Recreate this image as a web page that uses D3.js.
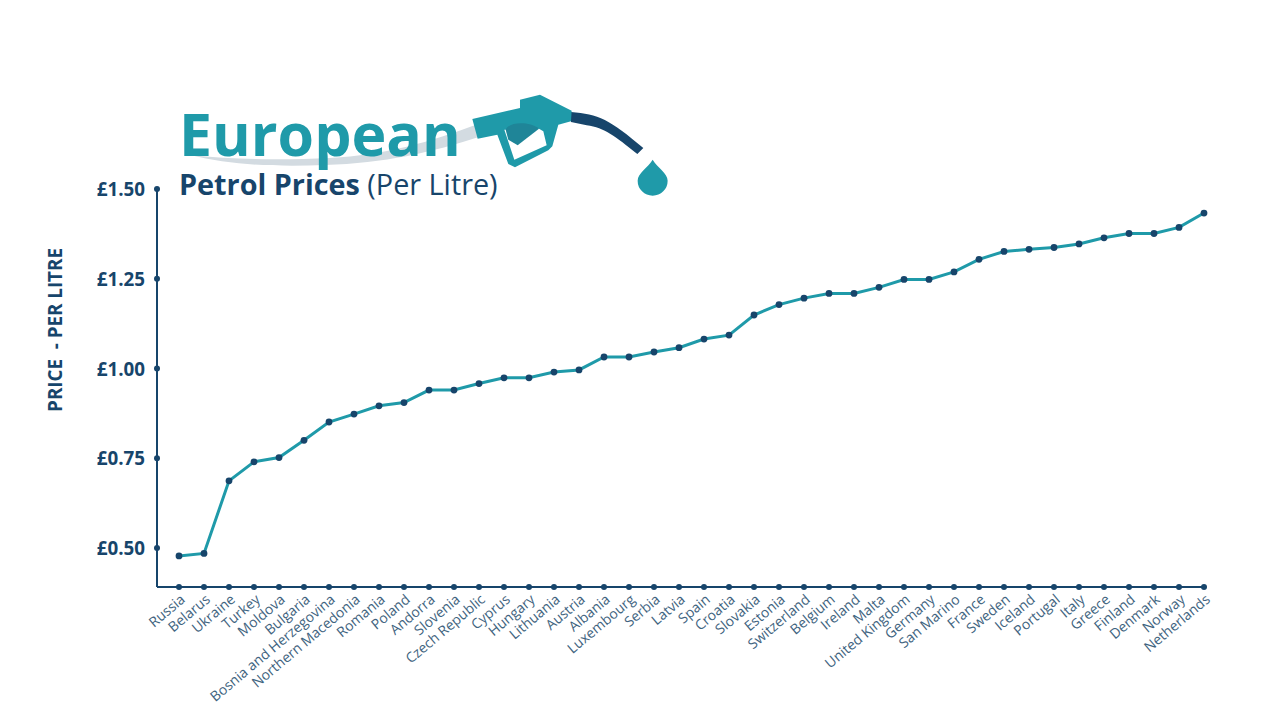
<!DOCTYPE html>
<html><head><meta charset="utf-8">
<script src="https://cdnjs.cloudflare.com/ajax/libs/d3/7.8.5/d3.min.js"></script>
<style>html,body{margin:0;padding:0;background:#fff}svg{display:block}text{font-family:"Open Sans",sans-serif}</style>
</head><body><svg id="c" width="1280" height="720"></svg>
<script>
const countries=["Russia","Belarus","Ukraine","Turkey","Moldova","Bulgaria","Bosnia and Herzegovina","Northern Macedonia","Romania","Poland","Andorra","Slovenia","Czech Republic","Cyprus","Hungary","Lithuania","Austria","Albania","Luxembourg","Serbia","Latvia","Spain","Croatia","Slovakia","Estonia","Switzerland","Belgium","Ireland","Malta","United Kingdom","Germany","San Marino","France","Sweden","Iceland","Portugal","Italy","Greece","Finland","Denmark","Norway","Netherlands"];
const prices=[0.478,0.485,0.687,0.74,0.752,0.80,0.851,0.873,0.896,0.905,0.94,0.94,0.958,0.974,0.974,0.99,0.996,1.032,1.032,1.046,1.058,1.082,1.093,1.149,1.178,1.196,1.209,1.209,1.226,1.248,1.248,1.269,1.304,1.326,1.332,1.337,1.347,1.364,1.376,1.376,1.393,1.433];
const yTicks=[0.5,0.75,1,1.25,1.5];
const navy="#17456b",teal="#1f9aa9";
const svg=d3.select("#c");
const x=d3.scalePoint().domain(countries).range([179,1204]);
const y=d3.scaleLinear().domain([0.5,1.5]).range([548,189]);
const baseY=587,axisX=157;

// title art
svg.append("path").attr("fill","#d3dbe1")
 .attr("d","M190,155 C235,160 285,160 330,158 C385,155 430,142 478,124 L482,136 C430,153 385,163 325,165 C275,167 230,165 190,155 Z");
const title=svg.append("g");
title.append("text").attr("x",179).attr("y",155.5).attr("font-size",59).attr("font-weight",700).attr("fill",teal).text("European");
const sub=title.append("text").attr("x",179).attr("y",195).attr("font-size",28.8).attr("fill",navy);
sub.append("tspan").attr("font-weight",700).text("Petrol Prices");
sub.append("tspan").attr("font-weight",400).text(" (Per Litre)");
const art=svg.append("g").attr("transform","translate(465,88) scale(0.3333)");
art.append("path").attr("fill",navy).attr("d","M318,72 C400,78 435,95 535,180 L517,198 C450,145 420,120 365,112 L318,102 Z");
art.append("path").attr("fill",teal).attr("fill-rule","evenodd")
 .attr("d","M22,93 L165,60 L165,35 L225,20 L320,68 L318,100 L280,110 L262,175 L250,187 L150,238 L130,228 L97,140 L38,152 Z M118,125 L148,215 L245,172 L235,130 L222,122 Z");
art.append("path").attr("fill","#1f8598").attr("d","M122,125 C130,103 190,98 222,122 L158,172 L130,155 Z");
art.append("path").attr("fill",teal).attr("d","M563,215 C578,240 608,255 608,278 A45,45 0 1 1 518,278 C518,255 548,240 563,215 Z");

// axes
svg.append("line").attr("x1",axisX).attr("x2",axisX).attr("y1",189).attr("y2",baseY).attr("stroke",navy).attr("stroke-width",2);
svg.append("line").attr("x1",axisX).attr("x2",1204).attr("y1",baseY).attr("y2",baseY).attr("stroke",navy).attr("stroke-width",2);
svg.selectAll(".yd").data(yTicks).join("circle").attr("cx",axisX).attr("cy",d=>y(d)).attr("r",3).attr("fill",navy);
svg.selectAll(".yl").data(yTicks).join("text").attr("x",145).attr("y",d=>y(d)+7).attr("text-anchor","end")
 .attr("font-size",18.8).attr("font-weight",700).attr("fill",navy).text(d=>"£"+d.toFixed(2));
svg.selectAll(".xd").data(countries).join("circle").attr("cx",d=>x(d)).attr("cy",baseY).attr("r",3).attr("fill",navy);
svg.selectAll(".xl").data(countries).join("text").attr("text-anchor","end").attr("font-size",14).attr("fill","#3f6480")
 .attr("transform",d=>`translate(${x(d)+7},${baseY+14}) rotate(-40)`).text(d=>d);
svg.append("text").attr("transform","translate(62,330) rotate(-90)").attr("text-anchor","middle").attr("font-size",18.8).attr("font-weight",700).attr("fill",navy).attr("xml:space","preserve").text("PRICE  - PER LITRE");

// series
const line=d3.line().x((d,i)=>x(countries[i])).y(d=>y(d));
svg.append("path").datum(prices).attr("fill","none").attr("stroke",teal).attr("stroke-width",3).attr("d",line);
svg.selectAll(".pt").data(prices).join("circle").attr("cx",(d,i)=>x(countries[i])).attr("cy",d=>y(d)).attr("r",3.4).attr("fill",navy);
</script></body></html>
